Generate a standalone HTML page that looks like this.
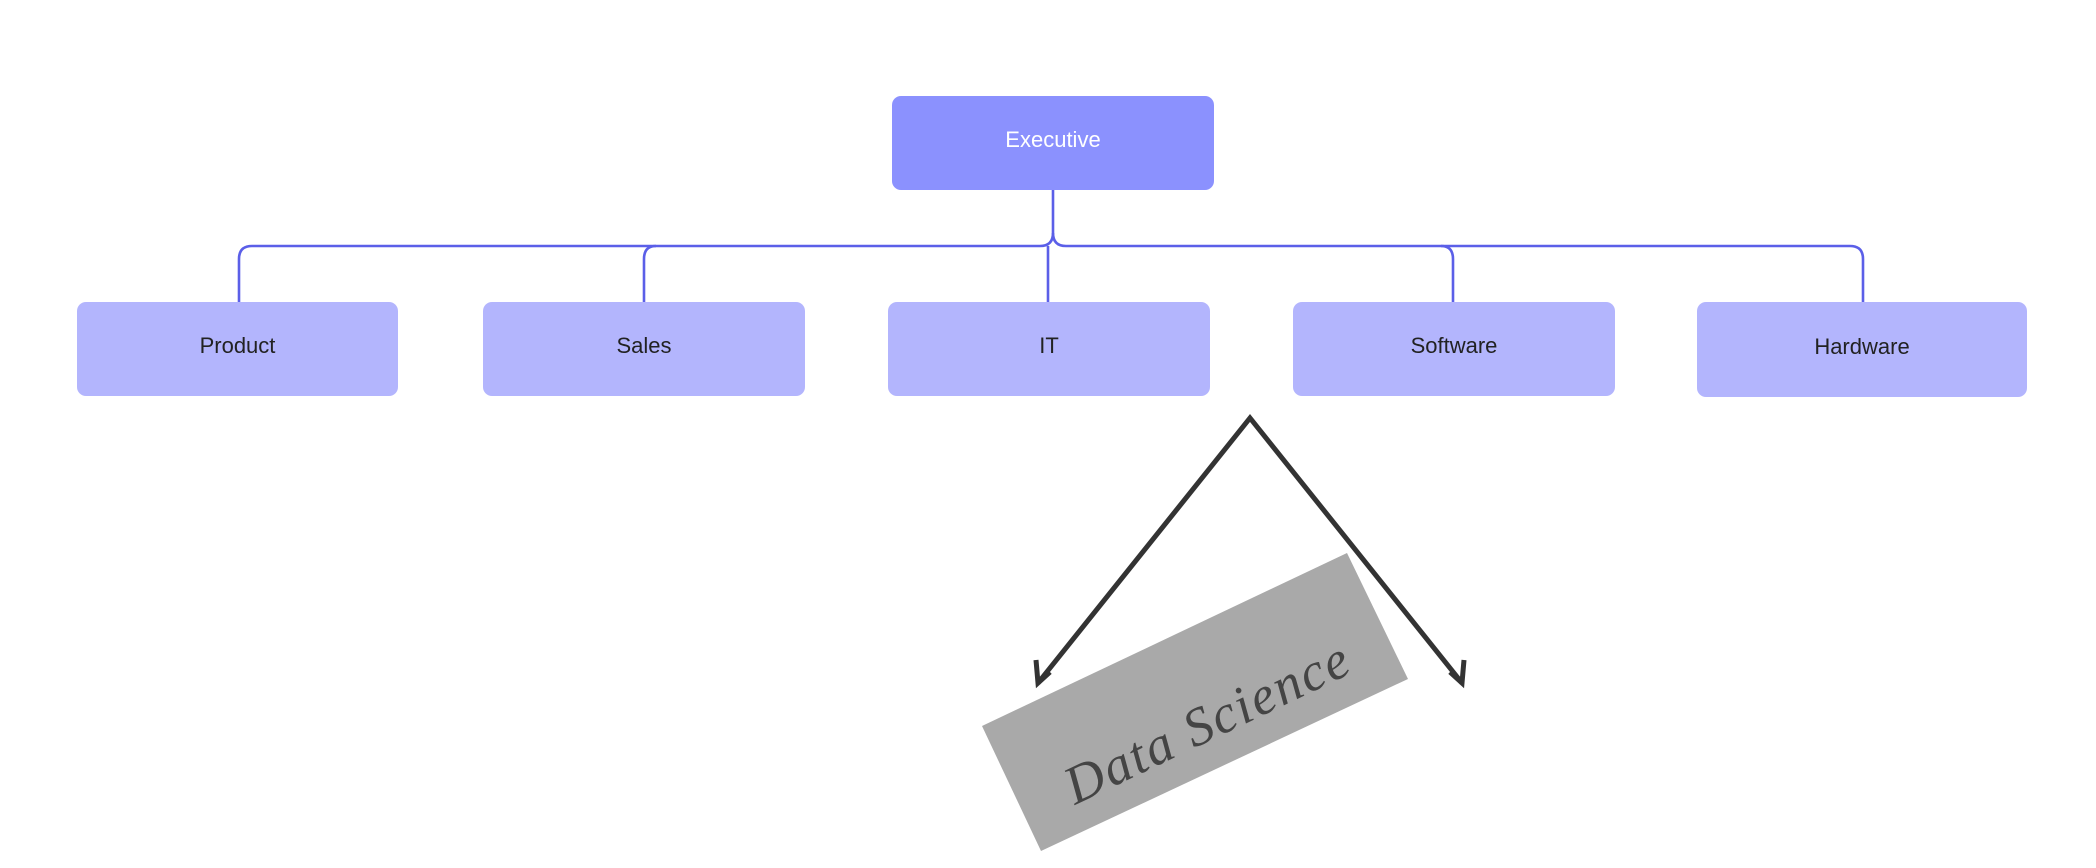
<!DOCTYPE html>
<html><head><meta charset="utf-8"><style>
html,body{margin:0;padding:0;background:#fff;}
body{width:2096px;height:868px;position:relative;overflow:hidden;font-family:"Liberation Sans",sans-serif;}
.b{position:absolute;border-radius:9px;background:#b3b5fd;color:#222;font-size:22px;display:flex;align-items:center;justify-content:center;padding-bottom:6px;box-sizing:border-box;}
</style></head><body>
<svg width="2096" height="868" style="position:absolute;left:0;top:0">
<g fill="none" stroke="#5b5fe8" stroke-width="2.6">
<path d="M1053 190 V233 Q1053 246 1040 246 H252 Q239 246 239 259 V302"/>
<path d="M1053 233 Q1053 246 1066 246 H1850 Q1863 246 1863 259 V302"/>
<path d="M656 246 Q644 246 644 259 V302"/>
<path d="M1048 246 V302"/>
<path d="M1441 246 Q1453 246 1453 259 V302"/>
</g>
<polygon points="982,726 1347,553 1408,679 1041,851" fill="#a9a9a9"/>
<text x="0" y="0" transform="translate(1075,805) rotate(-25.5)" font-family="Liberation Serif, serif" font-style="italic" font-size="54" fill="#444" letter-spacing="2">Data Science</text>
<g fill="none" stroke="#333" stroke-width="5" stroke-linejoin="miter">
<path d="M1038 683 L1250 418 L1462 683"/>
<path d="M1036 660 L1038 683 L1050 672"/>
<path d="M1464 660 L1462 683 L1450 672"/>
</g>
</svg>
<div class="b" style="left:892px;top:96px;width:322px;height:94px;background:#8b91fe;color:#fff">Executive</div>
<div class="b" style="left:77px;top:302px;width:321px;height:94px">Product</div>
<div class="b" style="left:483px;top:302px;width:322px;height:94px">Sales</div>
<div class="b" style="left:888px;top:302px;width:322px;height:94px">IT</div>
<div class="b" style="left:1293px;top:302px;width:322px;height:94px">Software</div>
<div class="b" style="left:1697px;top:302px;width:330px;height:95px">Hardware</div>
</body></html>
